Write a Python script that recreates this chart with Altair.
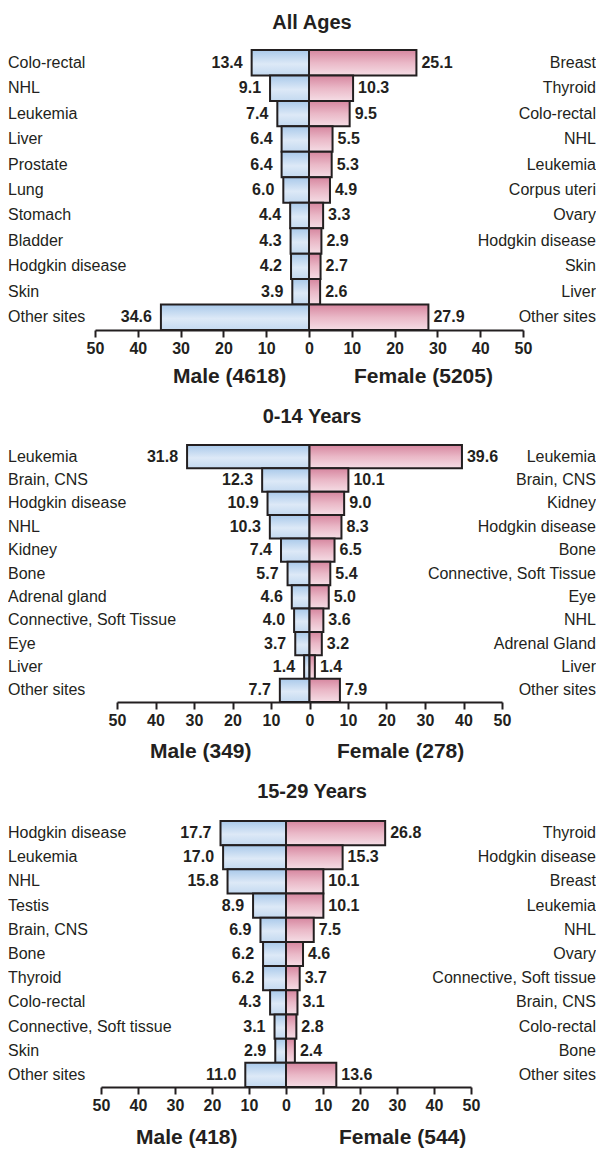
import altair as alt
import pandas as pd

FONT = "Liberation Sans"
INK = "#231f20"

titles = ["All Ages", "0-14 Years", "15-29 Years"]

male_cats_all = ["Colo-rectal", "NHL", "Leukemia", "Liver", "Prostate", "Lung",
                 "Stomach", "Bladder", "Hodgkin disease", "Skin", "Other sites"]
male_vals_all = [13.4, 9.1, 7.4, 6.4, 6.4, 6.0, 4.4, 4.3, 4.2, 3.9, 34.6]
female_cats_all = ["Breast", "Thyroid", "Colo-rectal", "NHL", "Leukemia", "Corpus uteri",
                   "Ovary", "Hodgkin disease", "Skin", "Liver", "Other sites"]
female_vals_all = [25.1, 10.3, 9.5, 5.5, 5.3, 4.9, 3.3, 2.9, 2.7, 2.6, 27.9]

male_cats_014 = ["Leukemia", "Brain, CNS", "Hodgkin disease", "NHL", "Kidney", "Bone",
                 "Adrenal gland", "Connective, Soft Tissue", "Eye", "Liver", "Other sites"]
male_vals_014 = [31.8, 12.3, 10.9, 10.3, 7.4, 5.7, 4.6, 4.0, 3.7, 1.4, 7.7]
female_cats_014 = ["Leukemia", "Brain, CNS", "Kidney", "Hodgkin disease", "Bone",
                   "Connective, Soft Tissue", "Eye", "NHL", "Adrenal Gland", "Liver", "Other sites"]
female_vals_014 = [39.6, 10.1, 9.0, 8.3, 6.5, 5.4, 5.0, 3.6, 3.2, 1.4, 7.9]

male_cats_1529 = ["Hodgkin disease", "Leukemia", "NHL", "Testis", "Brain, CNS", "Bone",
                  "Thyroid", "Colo-rectal", "Connective, Soft tissue", "Skin", "Other sites"]
male_vals_1529 = [17.7, 17.0, 15.8, 8.9, 6.9, 6.2, 6.2, 4.3, 3.1, 2.9, 11.0]
female_cats_1529 = ["Thyroid", "Hodgkin disease", "Breast", "Leukemia", "NHL", "Ovary",
                    "Connective, Soft tissue", "Brain, CNS", "Colo-rectal", "Bone", "Other sites"]
female_vals_1529 = [26.8, 15.3, 10.1, 10.1, 7.5, 4.6, 3.7, 3.1, 2.8, 2.4, 13.6]

male_n = [4618, 349, 418]
female_n = [5205, 278, 544]
tick_values = [-50, -40, -30, -20, -10, 0, 10, 20, 30, 40, 50]

W = 588

blue_grad = alt.Gradient(
    gradient="linear", x1=0, x2=0, y1=0, y2=1,
    stops=[alt.GradientStop(color="#a9c9ea", offset=0),
           alt.GradientStop(color="#dde9f7", offset=0.55),
           alt.GradientStop(color="#c3d9f0", offset=1)])
pink_grad = alt.Gradient(
    gradient="linear", x1=0, x2=0, y1=0, y2=1,
    stops=[alt.GradientStop(color="#d6869f", offset=0),
           alt.GradientStop(color="#eab8c7", offset=0.5),
           alt.GradientStop(color="#f5dde5", offset=1)])


def panel(title, mcats, mvals, fcats, fvals, mn, fn, height, xrange, toff, gy, mx, fx):
    df = pd.DataFrame({"row": list(range(len(mcats))), "mcat": mcats, "m": mvals,
                       "fcat": fcats, "f": fvals})
    base = alt.Chart(df).transform_calculate(mneg="-datum.m")
    xscale = alt.Scale(domain=[-50, 50], range=xrange, nice=False, zero=False)
    axis = alt.Axis(values=tick_values, labelExpr="abs(datum.value)", title=None, grid=False,
                    domainColor=INK, domainWidth=2, tickColor=INK, tickWidth=2,
                    tickSize=7, labelFont=FONT, labelFontSize=16, labelFontWeight="bold",
                    labelColor=INK, labelPadding=3, labelFlush=False)
    yenc = alt.Y("row:O", axis=None, scale=alt.Scale(paddingInner=0, paddingOuter=0))

    male_bar = base.mark_bar(fill=blue_grad, stroke=INK, strokeWidth=2).encode(
        x=alt.X("mneg:Q", scale=xscale, axis=axis), x2=alt.datum(0), y=yenc)
    female_bar = base.mark_bar(fill=pink_grad, stroke=INK, strokeWidth=2).encode(
        x=alt.X("f:Q", scale=xscale, axis=axis), x2=alt.datum(0), y=yenc)
    male_txt = base.mark_text(align="right", dx=-9, font=FONT, fontSize=16,
                              fontWeight="bold", color=INK).encode(
        x=alt.X("mneg:Q", scale=xscale, axis=axis), y=yenc,
        text=alt.Text("m:Q", format=".1f"))
    female_txt = base.mark_text(align="left", dx=5, font=FONT, fontSize=16,
                                fontWeight="bold", color=INK).encode(
        x=alt.X("f:Q", scale=xscale, axis=axis), y=yenc,
        text=alt.Text("f:Q", format=".1f"))
    left = base.mark_text(align="left", font=FONT, fontSize=16, color=INK).encode(
        x=alt.value(0), y=yenc, text="mcat:N")
    right = base.mark_text(align="right", font=FONT, fontSize=16, color=INK).encode(
        x=alt.value(W), y=yenc, text="fcat:N")

    gdf = pd.DataFrame({"m": [f"Male ({mn})"], "f": [f"Female ({fn})"]})
    gm = alt.Chart(gdf).mark_text(align="left", font=FONT, fontSize=21, fontWeight="bold",
                                  color=INK).encode(
        x=alt.value(mx), y=alt.value(height + gy), text="m:N")
    gf = alt.Chart(gdf).mark_text(align="left", font=FONT, fontSize=21, fontWeight="bold",
                                  color=INK).encode(
        x=alt.value(fx), y=alt.value(height + gy), text="f:N")

    return alt.layer(male_bar, female_bar, male_txt, female_txt, left, right, gm, gf).properties(
        width=W, height=height,
        title=alt.TitleParams(text=title, font=FONT, fontSize=20, fontWeight="bold",
                              color=INK, anchor="middle", offset=toff, dx=10))


p1 = panel(titles[0], male_cats_all, male_vals_all, female_cats_all, female_vals_all,
           male_n[0], female_n[0], 280, [87, 515], 16, 47, 165, 346)
p2 = panel(titles[1], male_cats_014, male_vals_014, female_cats_014, female_vals_014,
           male_n[1], female_n[1], 257, [109, 494], 17, 50, 142, 329)
p3 = panel(titles[2], male_cats_1529, male_vals_1529, female_cats_1529, female_vals_1529,
           male_n[2], female_n[2], 266, [93, 463], 18, 51, 128, 331)

chart = alt.vconcat(p1, p2, p3, spacing=20).resolve_scale(
    x="independent", y="independent").properties(
    padding={"left": 0, "top": 5, "right": 0, "bottom": 0},
    background="white").configure_view(stroke=None)

chart.save("out.html", embed_options={"renderer": "svg", "actions": False})
